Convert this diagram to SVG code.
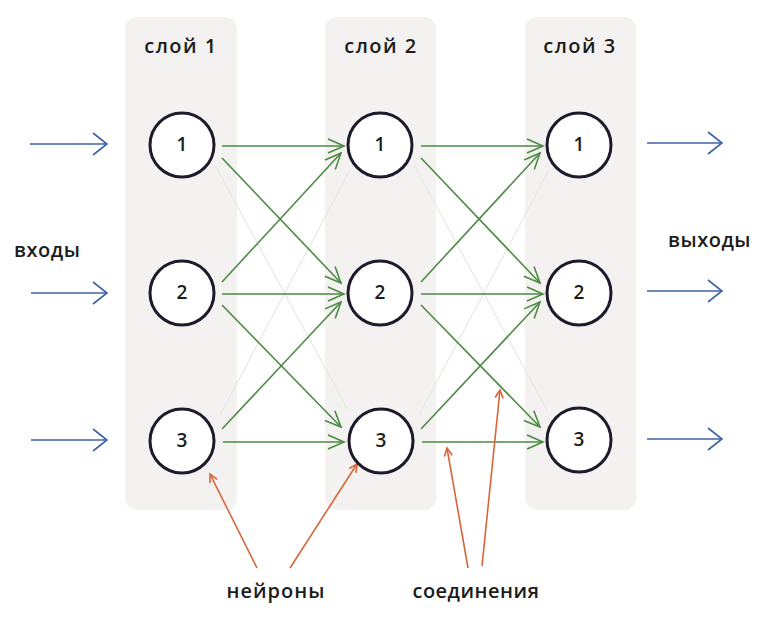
<svg xmlns="http://www.w3.org/2000/svg" width="767" height="628" viewBox="0 0 767 628">
<style>
.layer{fill:#f3f2f0}
.node circle{fill:#fff;stroke:#1e1a2b;stroke-width:3}
.num{font-family:"Open Sans","Liberation Sans",sans-serif;font-size:19px;font-weight:600;fill:#1c1c1c;text-anchor:middle}
.lbl{font-family:"Open Sans","Liberation Sans",sans-serif;font-size:20px;font-weight:600;fill:#1c1c1c}
.g{stroke:#4d8a44;stroke-width:1.6;fill:none;marker-end:url(#mg)}
.gf{stroke:#e6e8e1;stroke-width:1.2;fill:none}
.b{stroke:#3d62a8;stroke-width:1.6;fill:none;marker-end:url(#mb)}
.o{stroke:#d6663a;stroke-width:1.6;fill:none;marker-end:url(#mo)}
</style>
<defs>
<marker id="mg" markerUnits="userSpaceOnUse" viewBox="0 0 20 20" refX="18" refY="10" markerWidth="20" markerHeight="20" orient="auto"><path d="M2,3 L18,10 L2,17" fill="none" stroke="#4d8a44" stroke-width="1.6"/></marker>
<marker id="mb" markerUnits="userSpaceOnUse" viewBox="0 0 20 26" refX="17" refY="13" markerWidth="20" markerHeight="26" orient="auto"><path d="M3,2 L17,13 L3,24" fill="none" stroke="#3d62a8" stroke-width="1.6"/></marker>
<marker id="mo" markerUnits="userSpaceOnUse" viewBox="0 0 12 12" refX="10" refY="6" markerWidth="12" markerHeight="12" orient="auto"><path d="M2,2 L10,6 L2,10" fill="none" stroke="#d6663a" stroke-width="1.6"/></marker>
</defs>
<rect width="767" height="628" fill="#fff"/>
<g id="layers">
<rect class="layer" x="125" y="17" width="112" height="493" rx="12"/>
<rect class="layer" x="325" y="17" width="111" height="493" rx="12"/>
<rect class="layer" x="525" y="17" width="111" height="493" rx="12"/>
<text class="lbl" x="181" y="53" text-anchor="middle" font-size="21" letter-spacing="1.5">слой 1</text>
<text class="lbl" x="381" y="53" text-anchor="middle" font-size="21" letter-spacing="1.5">слой 2</text>
<text class="lbl" x="580" y="53" text-anchor="middle" font-size="21" letter-spacing="1.5">слой 3</text>
</g>
<g id="connectors">
<line class="gf" x1="215" y1="165" x2="348" y2="410"/>
<line class="gf" x1="220" y1="415" x2="350" y2="170"/>
<line class="gf" x1="414" y1="165" x2="547" y2="410"/>
<line class="gf" x1="419" y1="415" x2="549" y2="170"/>
<line class="g" x1="222" y1="146" x2="344" y2="146"/>
<line class="g" x1="222" y1="158" x2="341" y2="283"/>
<line class="g" x1="222" y1="282" x2="341" y2="153"/>
<line class="g" x1="222" y1="294" x2="344" y2="294"/>
<line class="g" x1="222" y1="305" x2="341" y2="427"/>
<line class="g" x1="222" y1="429" x2="341" y2="302"/>
<line class="g" x1="223" y1="442" x2="344" y2="442"/>
<line class="g" x1="421" y1="146" x2="543" y2="146"/>
<line class="g" x1="421" y1="158" x2="540" y2="283"/>
<line class="g" x1="421" y1="282" x2="540" y2="153"/>
<line class="g" x1="421" y1="294" x2="543" y2="294"/>
<line class="g" x1="421" y1="305" x2="540" y2="427"/>
<line class="g" x1="421" y1="429" x2="540" y2="302"/>
<line class="g" x1="422" y1="442" x2="543" y2="442"/>
<line class="b" x1="30" y1="144" x2="107" y2="144"/>
<line class="b" x1="31" y1="293" x2="107" y2="293"/>
<line class="b" x1="31" y1="440" x2="107" y2="440"/>
<line class="b" x1="647" y1="143" x2="722" y2="143"/>
<line class="b" x1="647" y1="291" x2="722" y2="291"/>
<line class="b" x1="647" y1="439" x2="722" y2="439"/>
<line class="o" x1="257" y1="568" x2="210" y2="474"/>
<line class="o" x1="290" y1="568" x2="357" y2="464"/>
<line class="o" x1="468" y1="568" x2="447" y2="448"/>
<line class="o" x1="482" y1="566" x2="500" y2="390"/>
</g>
<g id="n1-1" class="node"><circle cx="182" cy="145" r="32"/><text class="num" x="182" y="151">1</text></g>
<g id="n1-2" class="node"><circle cx="182" cy="293" r="32"/><text class="num" x="182" y="299">2</text></g>
<g id="n1-3" class="node"><circle cx="182" cy="441" r="32"/><text class="num" x="182" y="447">3</text></g>
<g id="n2-1" class="node"><circle cx="380" cy="145" r="32"/><text class="num" x="380" y="151">1</text></g>
<g id="n2-2" class="node"><circle cx="380" cy="293" r="32"/><text class="num" x="380" y="299">2</text></g>
<g id="n2-3" class="node"><circle cx="381" cy="441" r="32"/><text class="num" x="381" y="447">3</text></g>
<g id="n3-1" class="node"><circle cx="579" cy="145" r="32"/><text class="num" x="579" y="151">1</text></g>
<g id="n3-2" class="node"><circle cx="579" cy="293" r="32"/><text class="num" x="579" y="299">2</text></g>
<g id="n3-3" class="node"><circle cx="579" cy="440" r="32"/><text class="num" x="579" y="446">3</text></g>
<g id="labels">
<text class="lbl" x="14" y="257" letter-spacing="0.5">входы</text>
<text class="lbl" x="668" y="247" letter-spacing="0.5">выходы</text>
<text class="lbl" x="276" y="598" text-anchor="middle" letter-spacing="1">нейроны</text>
<text class="lbl" x="476" y="598" text-anchor="middle" letter-spacing="0.5">соединения</text>
</g>
</svg>
